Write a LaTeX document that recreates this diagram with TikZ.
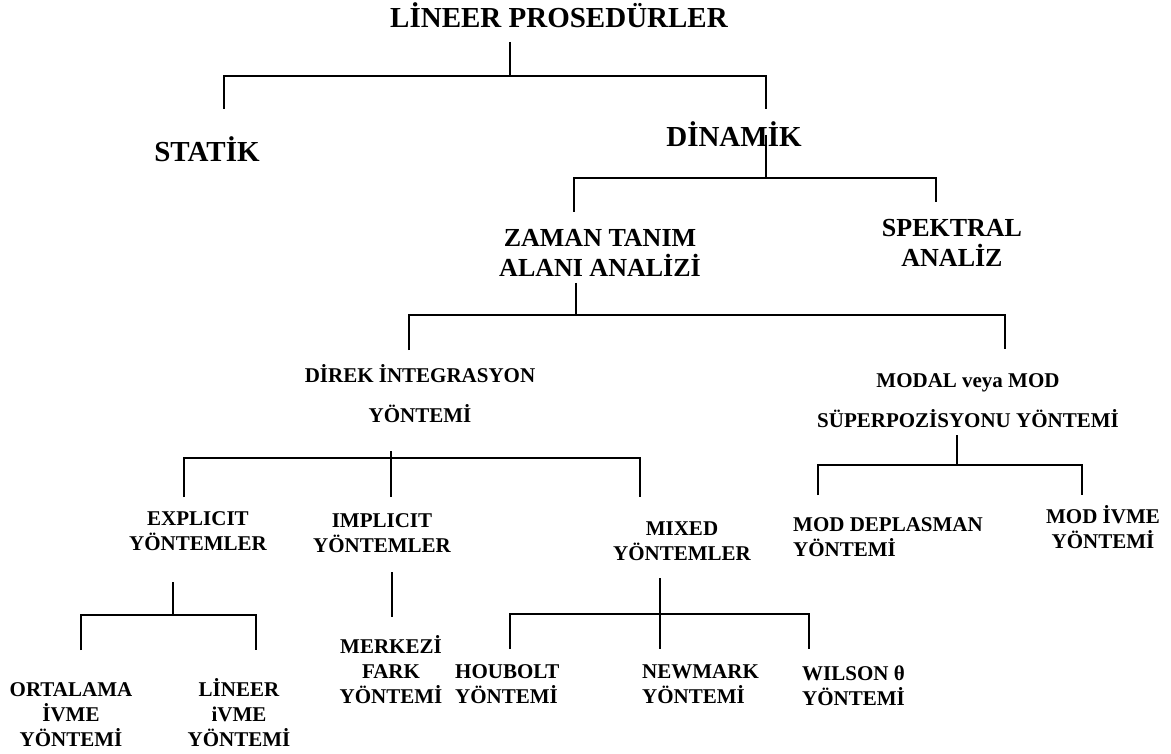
\documentclass[tikz,border=0pt]{standalone}
\usepackage{fontspec}
\setmainfont{Liberation Serif}
\usepackage{tikz}

\begin{document}
\begin{tikzpicture}[x=1pt, y=-1pt,
    big/.style={font=\bfseries\fontsize{29}{29}\selectfont, anchor=base, inner sep=0pt},
    mid/.style={font=\bfseries\fontsize{26}{30}\selectfont, align=center, anchor=base, inner sep=0pt},
    sml/.style={font=\bfseries\fontsize{21}{25}\selectfont, align=center, anchor=base, inner sep=0pt},
    lft/.style={sml, align=left, anchor=base west},
    conn/.style={draw, line width=1.6pt}
]
    \useasboundingbox (0,0) rectangle (1171,754);

    % Nodes (placed at the baseline of their last line)
    \node[big] (lineer) at (559,28) {LİNEER PROSEDÜRLER};
    \node[big] (statik) at (207,162) {STATİK};
    \node[big] (dinamik) at (734,147) {DİNAMİK};
    \node[mid] (zaman) at (600,277) {ZAMAN TANIM\\ALANI ANALİZİ};
    \node[mid] (spektral) at (952,267) {SPEKTRAL\\ANALİZ};
    \node[sml] (direk) at (420,422) {DİREK İNTEGRASYON\\[15pt]YÖNTEMİ};
    \node[sml] (modal) at (968,427) {MODAL veya MOD\\[15pt]SÜPERPOZİSYONU YÖNTEMİ};
    \node[sml] (explicit) at (198,550) {EXPLICIT\\YÖNTEMLER};
    \node[sml] (implicit) at (382,552) {IMPLICIT\\YÖNTEMLER};
    \node[sml] (mixed) at (682,560) {MIXED\\YÖNTEMLER};
    \node[lft] (moddepl) at (793,556) {MOD DEPLASMAN\\YÖNTEMİ};
    \node[sml] (modivme) at (1103,548) {MOD İVME\\YÖNTEMİ};
    \node[sml] (ortalama) at (71,746) {ORTALAMA\\İVME\\YÖNTEMİ};
    \node[sml] (lineerivme) at (239,746) {LİNEER\\iVME\\YÖNTEMİ};
    \node[sml] (merkezi) at (391,703) {MERKEZİ\\FARK\\YÖNTEMİ};
    \node[lft] (houbolt) at (455,703) {HOUBOLT\\YÖNTEMİ};
    \node[lft] (newmark) at (642,703) {NEWMARK\\YÖNTEMİ};
    \node[lft] (wilson) at (802,705) {WILSON θ\\YÖNTEMİ};

    % Bracket points
    \coordinate (t0) at (510,42);  \coordinate (t1) at (510,76);
    \coordinate (tL) at (224,109); \coordinate (tR) at (766,109);
    \coordinate (d0) at (766,135); \coordinate (d1) at (766,178);
    \coordinate (dL) at (574,212); \coordinate (dR) at (936,202);
    \coordinate (z0) at (576,283); \coordinate (z1) at (576,315);
    \coordinate (zL) at (409,350); \coordinate (zR) at (1005,349);
    \coordinate (i0) at (391,451); \coordinate (i1) at (391,458);
    \coordinate (iL) at (184,497); \coordinate (iM) at (391,497); \coordinate (iR) at (640,497);
    \coordinate (m0) at (957,435); \coordinate (m1) at (957,465);
    \coordinate (mL) at (818,495); \coordinate (mR) at (1082,495);
    \coordinate (e0) at (173,582); \coordinate (e1) at (173,615);
    \coordinate (eL) at (81,650);  \coordinate (eR) at (256,650);
    \coordinate (p0) at (392,572); \coordinate (p1) at (392,617);
    \coordinate (x0) at (660,578); \coordinate (x1) at (660,614); \coordinate (xM) at (660,649);
    \coordinate (xL) at (510,649); \coordinate (xR) at (809,649);

    % Connections
    \draw[conn] (t0) -- (t1);
    \draw[conn] (tL) |- (t1) -| (tR);
    \draw[conn] (d0) -- (d1);
    \draw[conn] (dL) |- (d1) -| (dR);
    \draw[conn] (z0) -- (z1);
    \draw[conn] (zL) |- (z1) -| (zR);
    \draw[conn] (i0) -- (iM);
    \draw[conn] (iL) |- (i1) -| (iR);
    \draw[conn] (m0) -- (m1);
    \draw[conn] (mL) |- (m1) -| (mR);
    \draw[conn] (e0) -- (e1);
    \draw[conn] (eL) |- (e1) -| (eR);
    \draw[conn] (p0) -- (p1);
    \draw[conn] (x0) -- (xM);
    \draw[conn] (xL) |- (x1) -| (xR);

\end{tikzpicture}
\end{document}
